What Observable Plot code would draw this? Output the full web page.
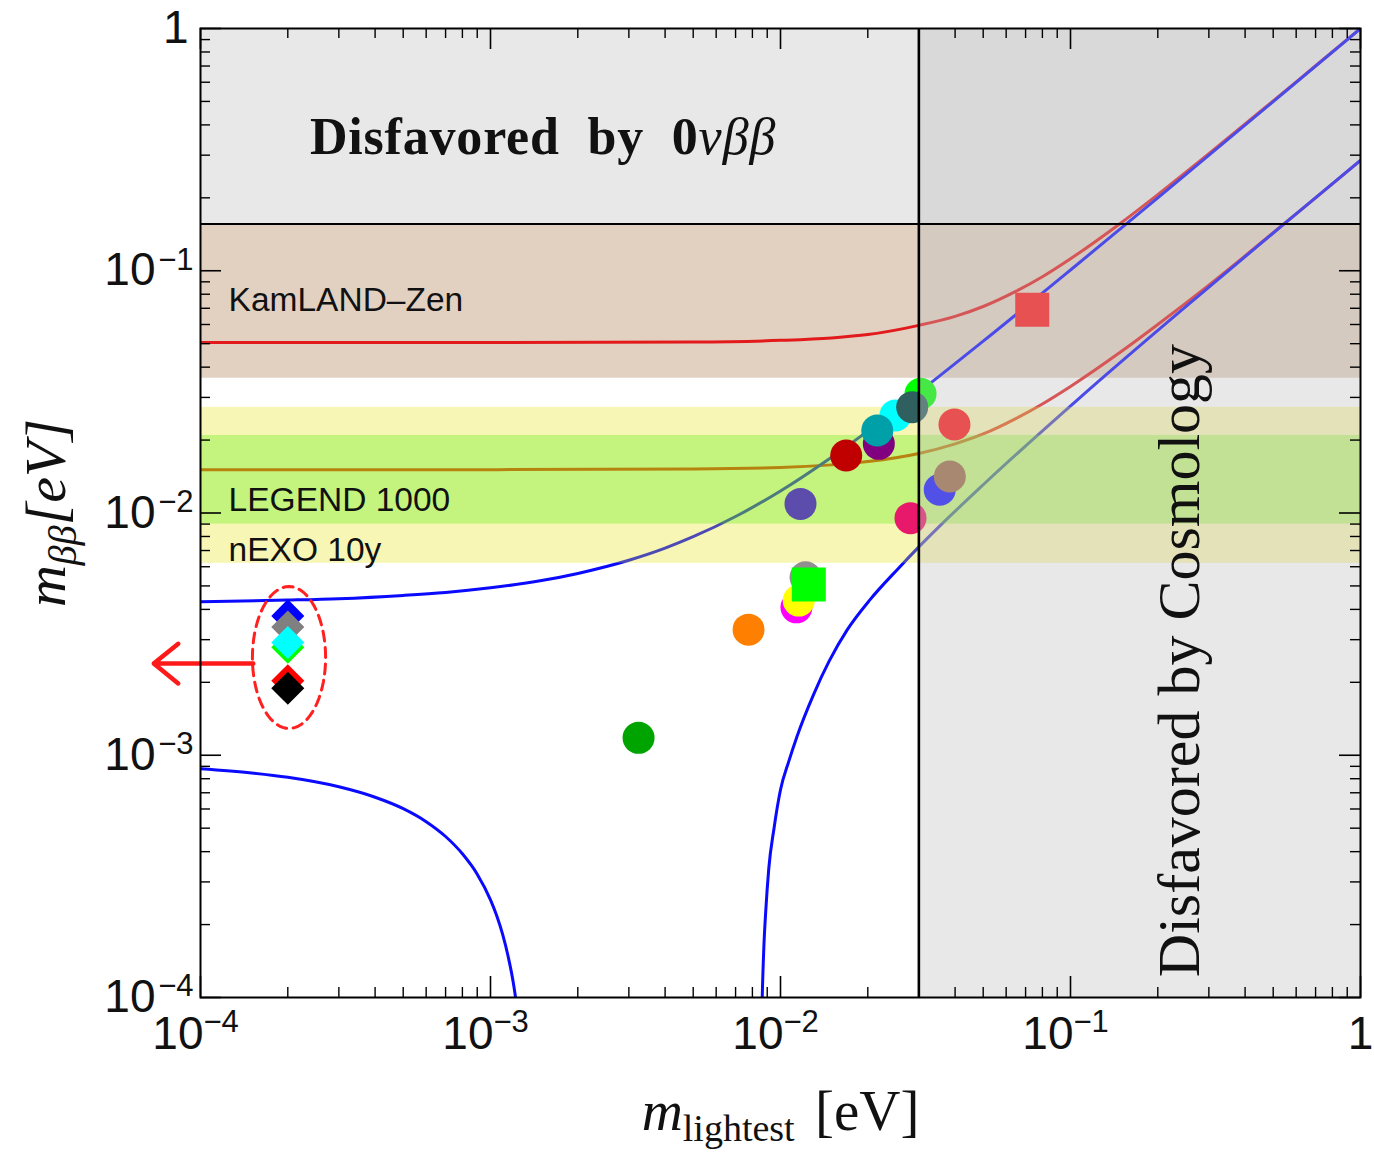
<!DOCTYPE html>
<html>
<head>
<meta charset="utf-8">
<script src="https://cdn.jsdelivr.net/npm/d3@7"></script>
<script src="https://cdn.jsdelivr.net/npm/@observablehq/plot@0.6"></script>
<style>
  html, body { margin: 0; padding: 0; background: #fff; }
  #chart svg { display: block; }
</style>
</head>
<body>
<div id="chart"></div>
<script>
// Effective Majorana mass m_ββ versus the lightest neutrino mass,
// with experimental reaches, the cosmological bound and model predictions.

const W = 1374, H = 1153;
const marginLeft = 200, marginRight = 14, marginTop = 28, marginBottom = 156;
const frameW = W - marginLeft - marginRight;
const frameH = H - marginTop - marginBottom;

const SANS = "Liberation Sans, Arial, Helvetica, sans-serif";
const SERIF = "Liberation Serif, Times New Roman, serif";

// Axis ticks
const decades = [1e-4, 1e-3, 1e-2, 1e-1, 1];
const decadeExponents = ["−4", "−3", "−2", "−1", ""];
const minorTicks = decades.slice(0, -1).flatMap(d => [2, 3, 4, 5, 6, 7, 8, 9].map(k => d * k));

// Bounds
const betaBound = 0.156;     // current 0νββ limit (eV)
const cosmoBound = 0.03;     // cosmological limit on m_lightest (eV)

// Horizontal bands: excluded region, KamLAND-Zen range, nEXO 10y and LEGEND 1000 reaches
const bandNames = ["0νββ", "KamLAND–Zen", "nEXO 10y", "LEGEND 1000"];
const bandLow = [0.156, 0.036, 0.0062, 0.009];
const bandHigh = [1, 0.156, 0.0273, 0.0209];
const bandFill = ["#e8e8e8", "#e2d1c1", "#e8e105", "#4bef00"];

// Normal ordering, upper boundary
const noUpperX = [1e-4, 2e-4, 3e-4, 5e-4, 7e-4, 1e-3, 1.5e-3, 2e-3, 3e-3, 4e-3, 5e-3, 7e-3, 1e-2, 1.5e-2, 2e-2, 3e-2, 5e-2, 0.1, 0.2, 0.5, 1];
const noUpperY = [0.0043, 0.00437, 0.00443, 0.00457, 0.0047, 0.00491, 0.00526, 0.00563, 0.00638, 0.00716, 0.00798, 0.00967, 0.01233, 0.017, 0.02178, 0.03152, 0.0512, 0.1007, 0.2, 0.499, 1];
// Normal ordering, lower boundary (left branch, falls to zero near 1.3 meV)
const noLowAX = [1e-4, 1.5e-4, 2e-4, 3e-4, 4e-4, 5e-4, 6e-4, 7e-4, 8e-4, 9e-4, 1e-3, 1.05e-3, 1.1e-3, 1.15e-3, 1.2e-3, 1.25e-3, 1.3e-3];
const noLowAY = [8.8e-4, 8.45e-4, 8.11e-4, 7.41e-4, 6.71e-4, 6.02e-4, 5.32e-4, 4.62e-4, 3.92e-4, 3.23e-4, 2.53e-4, 2.18e-4, 1.83e-4, 1.48e-4, 1.14e-4, 7.9e-5, 4.4e-5];
// Normal ordering, lower boundary (right branch, rises from zero near 8.5 meV)
const noLowBX = [8.5e-3, 8.65e-3, 8.76e-3, 8.9e-3, 9.11e-3, 9.5e-3, 0.01, 0.0107, 0.0114, 0.013, 0.0147, 0.017, 0.0204, 0.0253, 0.0296, 0.0356, 0.05, 0.1083, 0.2594, 0.544, 1];
const noLowBY = [3e-5, 1.0e-4, 1.6e-4, 2.3e-4, 3.4e-4, 5.0e-4, 7.2e-4, 9.5e-4, 1.195e-3, 1.78e-3, 2.44e-3, 3.3e-3, 4.4e-3, 5.85e-3, 7.13e-3, 8.89e-3, 0.01308, 0.0301, 0.0739, 0.1558, 0.2855];
// Inverted ordering, upper and lower boundaries
const ioX = [1e-4, 1e-3, 5e-3, 0.01, 0.015, 0.02, 0.03, 0.04, 0.05, 0.065, 0.08, 0.1, 0.15, 0.2, 0.3, 0.5, 0.7, 1];
const ioUpperY = [0.0506, 0.0506, 0.0508, 0.0516, 0.0528, 0.0545, 0.0595, 0.0648, 0.0712, 0.0824, 0.0945, 0.1121, 0.1583, 0.2063, 0.3042, 0.5026, 0.7018, 1.0];
const ioLowerY = [0.0151, 0.0151, 0.0152, 0.0154, 0.0158, 0.0163, 0.0176, 0.0193, 0.0212, 0.0246, 0.0282, 0.0333, 0.0465, 0.060, 0.0872, 0.1435, 0.200, 0.2855];

// Model predictions (circles and squares)
const modelX = [0.0304, 0.0249, 0.02183, 0.02156, 0.02845, 0.01685, 0.01135, 0.01156, 0.0122, 0.01172, 0.00776, 0.00324, 0.0398, 0.0354, 0.03836, 0.02807];
const modelY = [0.03105, 0.02527, 0.0193, 0.0219, 0.02734, 0.01728, 0.00408, 0.00435, 0.00543, 0.0109, 0.0033, 0.00118, 0.02319, 0.01247, 0.01415, 0.00952];
const modelColor = ["#00ff00", "#00ffff", "#800080", "#00a0a8", "#2f5f5f", "#c00000", "#ff00ff", "#ffff00", "#909090", "#5c4cac", "#ff8000", "#00a400", "#ff1414", "#1414ff", "#9b6944", "#e8186a"];
const squareX = [0.01252, 0.0738];
const squareY = [0.00507, 0.069];
const squareColor = ["#00ff00", "#ff1414"];
// Predictions with vanishing lightest mass (diamonds)
const diamondX = [2e-4, 2e-4, 2e-4, 2e-4, 2e-4, 2e-4];
const diamondY = [0.00376, 0.00338, 0.00279, 0.00292, 0.00203, 0.00189];
const diamondColor = ["#0000ff", "#808080", "#00ff00", "#00ffff", "#ff0000", "#000000"];

// Dashed marker around the diamonds and the arrow pointing to m_lightest → 0
const markerBox = {x1: 1.51e-4, x2: 2.70e-4, y1: 0.00129, y2: 0.00497};
const arrowFrom = 1.52e-4, arrowTo = 6.9e-5, arrowY = 0.00239;

// Text labels
const expLabels = ["KamLAND–Zen", "LEGEND 1000", "nEXO 10y"];
const expLabelY = [0.0754, 0.01126, 0.0070];
const expLabelX = 1.25e-4;

// ---- tables for the marks ----
const zipXY = (xs, ys) => xs.map((x, i) => ({x, y: ys[i]}));
const noUpper = zipXY(noUpperX, noUpperY);
const noLowA = zipXY(noLowAX, noLowAY);
const noLowB = zipXY(noLowBX, noLowBY);
const ioUpper = zipXY(ioX, ioUpperY);
const ioLower = zipXY(ioX, ioLowerY);
const bands = bandNames.map((name, i) => ({name, lo: bandLow[i], hi: bandHigh[i], fill: bandFill[i]}));
const models = modelX.map((x, i) => ({x, y: modelY[i], c: modelColor[i]}));
const squares = squareX.map((x, i) => ({x, y: squareY[i], c: squareColor[i]}));
const diamonds = diamondX.map((x, i) => ({x, y: diamondY[i], c: diamondColor[i]}));

// ellipse outline in log–log coordinates
const lx1 = Math.log10(markerBox.x1), lx2 = Math.log10(markerBox.x2);
const ly1 = Math.log10(markerBox.y1), ly2 = Math.log10(markerBox.y2);
const ellipse = d3.range(0, 73).map(i => {
  const t = (i / 72) * 2 * Math.PI;
  return {
    x: 10 ** ((lx1 + lx2) / 2 + (lx2 - lx1) / 2 * Math.cos(t)),
    y: 10 ** ((ly1 + ly2) / 2 + (ly2 - ly1) / 2 * Math.sin(t))
  };
});

const xMin = 1e-4, xMax = 1;
const lineOpts = {x: "x", y: "y", strokeWidth: 3, curve: "monotone-x", clip: true};

const svg = Plot.plot({
  width: W,
  height: H,
  marginLeft, marginRight, marginTop, marginBottom,
  x: {type: "log", domain: [1e-4, 1], axis: null},
  y: {type: "log", domain: [1e-4, 1], axis: null},
  color: {type: "identity"},
  style: {background: "#fff", overflow: "visible"},
  marks: [
    // excluded 0νββ region and KamLAND-Zen range
    Plot.rect(bands.slice(0, 2), {x1: () => xMin, x2: () => xMax, y1: "lo", y2: "hi", fill: "fill"}),

    // inverted ordering
    Plot.line(ioUpper, {...lineOpts, stroke: "#e31a1c"}),
    Plot.line(ioLower, {...lineOpts, stroke: "#e31a1c"}),
    // normal ordering
    Plot.line(noUpper, {...lineOpts, stroke: "#0a0aff"}),
    Plot.line(noLowA, {...lineOpts, stroke: "#0a0aff"}),
    Plot.line(noLowB, {...lineOpts, stroke: "#0a0aff"}),

    // future sensitivities (translucent, over the curves)
    Plot.rect(bands.slice(2), {x1: () => xMin, x2: () => xMax, y1: "lo", y2: "hi", fill: "fill", fillOpacity: 0.3}),

    // model predictions
    Plot.dot(models, {x: "x", y: "y", fill: "c", r: 16}),
    Plot.dot(squares, {x: "x", y: "y", fill: "c", r: 19.2, symbol: "square"}),
    Plot.dot(diamonds, {x: "x", y: "y", fill: "c", r: 14.9, symbol: "diamond2"}),

    // dashed marker and arrow
    Plot.line(ellipse, {x: "x", y: "y", stroke: "#ff2020", strokeWidth: 3, strokeDasharray: "10,6.5", curve: "linear-closed"}),
    Plot.arrow([{x1: arrowFrom, x2: arrowTo, y: arrowY}], {x1: "x1", x2: "x2", y1: "y", y2: "y", stroke: "#ff1a1a", strokeWidth: 4.5, headLength: 10.5, headAngle: 78}),

    // region disfavored by cosmology
    Plot.rect([{x1: cosmoBound, x2: xMax}], {x1: "x1", x2: "x2", fill: "#bfbfbf", fillOpacity: 0.36}),
    Plot.ruleY([betaBound], {stroke: "#000", strokeWidth: 2}),
    Plot.ruleX([cosmoBound], {stroke: "#000", strokeWidth: 2.6}),

    // in-plot labels
    Plot.text(expLabels, {x: () => expLabelX, y: (d, i) => expLabelY[i], text: d => d, textAnchor: "start", lineAnchor: "middle", fontSize: 33.5, fontFamily: SANS, fill: "#111"}),
    Plot.text(["Disfavored by 0νββ"], {x: () => 1.52e-3, y: () => 0.355, text: d => d, textAnchor: "middle", lineAnchor: "middle", fontSize: 52, fontFamily: SERIF, fill: "#111"}),
    Plot.text(["Disfavored by Cosmology"], {x: () => 0.2377, y: () => 0.00246, text: d => d, rotate: -90, textAnchor: "middle", lineAnchor: "middle", fontSize: 60, fontFamily: SERIF, fill: "#111"}),

    // axis titles
    Plot.text(["mlightest[eV]"], {x: () => 1e-2, frameAnchor: "bottom", dy: 132, textAnchor: "middle", lineAnchor: "bottom", text: d => d, fontSize: 57, fontFamily: SERIF, fill: "#111"}),
    Plot.text(["mββ[eV]"], {y: () => 1e-2, frameAnchor: "left", dx: -136, rotate: -90, textAnchor: "middle", lineAnchor: "bottom", text: d => d, fontSize: 58, fontFamily: SERIF, fill: "#111"}),

    // tick labels, x axis
    Plot.text(decades.slice(0, -1), {x: d => d, frameAnchor: "bottom", dy: 37, lineAnchor: "middle", text: () => "10", textAnchor: "end", dx: 3, fontSize: 46, fontFamily: SANS, fill: "#111"}),
    Plot.text(decades.slice(0, -1), {x: d => d, frameAnchor: "bottom", dy: 25, lineAnchor: "middle", text: (d, i) => decadeExponents[i], textAnchor: "start", dx: 3, fontSize: 31, fontFamily: SANS, fill: "#111"}),
    Plot.text([1], {x: d => d, frameAnchor: "bottom", dy: 37, lineAnchor: "middle", text: () => "1", textAnchor: "middle", fontSize: 46, fontFamily: SANS, fill: "#111"}),
    // tick labels, y axis
    Plot.text(decades.slice(0, -1), {y: d => d, frameAnchor: "left", dx: -45, lineAnchor: "middle", text: () => "10", textAnchor: "end", fontSize: 46, fontFamily: SANS, fill: "#111"}),
    Plot.text(decades.slice(0, -1), {y: d => d, frameAnchor: "left", dx: -7, dy: -11, lineAnchor: "middle", text: (d, i) => decadeExponents[i], textAnchor: "end", fontSize: 31, fontFamily: SANS, fill: "#111"}),
    Plot.text([1], {y: d => d, frameAnchor: "left", dx: -12, lineAnchor: "middle", text: () => "1", textAnchor: "end", fontSize: 46, fontFamily: SANS, fill: "#111"}),

    // inward ticks on all four sides
    Plot.tickX(decades, {x: d => d, insetTop: frameH - 21, stroke: "#000", strokeWidth: 1.6}),
    Plot.tickX(decades, {x: d => d, insetBottom: frameH - 21, stroke: "#000", strokeWidth: 1.6}),
    Plot.tickX(minorTicks, {x: d => d, insetTop: frameH - 10, stroke: "#000", strokeWidth: 1.4}),
    Plot.tickX(minorTicks, {x: d => d, insetBottom: frameH - 10, stroke: "#000", strokeWidth: 1.4}),
    Plot.tickY(decades, {y: d => d, insetRight: frameW - 21, stroke: "#000", strokeWidth: 1.6}),
    Plot.tickY(decades, {y: d => d, insetLeft: frameW - 21, stroke: "#000", strokeWidth: 1.6}),
    Plot.tickY(minorTicks, {y: d => d, insetRight: frameW - 10, stroke: "#000", strokeWidth: 1.4}),
    Plot.tickY(minorTicks, {y: d => d, insetLeft: frameW - 10, stroke: "#000", strokeWidth: 1.4}),
    Plot.frame({stroke: "#000", strokeWidth: 2})
  ]
});

// Mixed-style text (italic math, subscripts) built from tspans
function richText(root, content, parts) {
  d3.select(root).selectAll("text")
    .filter(function () { return this.textContent === content; })
    .each(function () {
      const t = d3.select(this);
      t.text(null);
      for (const p of parts) {
        const s = t.append("tspan").text(p.text);
        for (const [k, v] of Object.entries(p.attrs || {})) s.attr(k, v);
      }
    });
}

richText(svg, "Disfavored by 0νββ", [
  {text: "Disfavored by 0", attrs: {"font-weight": "bold", "word-spacing": "14px", "letter-spacing": "0.8px"}},
  {text: "νββ", attrs: {"font-style": "italic", "letter-spacing": "1px"}}
]);
richText(svg, "mlightest[eV]", [
  {text: "m", attrs: {"font-style": "italic"}},
  {text: "lightest", attrs: {"font-size": 38, dy: 11}},
  {text: " [eV]", attrs: {dy: -11, "word-spacing": "6px"}}
]);
richText(svg, "mββ[eV]", [
  {text: "m", attrs: {"font-style": "italic"}},
  {text: "ββ", attrs: {"font-style": "italic", "font-size": 40, dy: 11}},
  {text: "[eV]", attrs: {"font-style": "italic", dy: -11}}
]);

document.getElementById("chart").appendChild(svg);
</script>
</body>
</html>
